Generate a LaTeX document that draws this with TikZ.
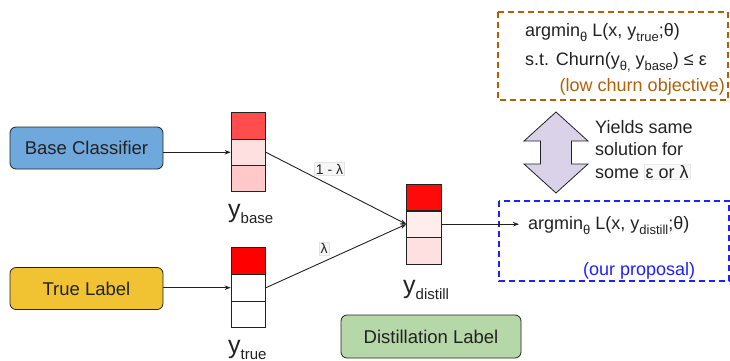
\documentclass[tikz,border=0pt]{standalone}
\usepackage{fontspec}
\setmainfont{Liberation Sans}
\usetikzlibrary{arrows.meta}
\definecolor{cblue}{HTML}{6FA8DC}
\definecolor{cyellow}{HTML}{F1C232}
\definecolor{cgreen}{HTML}{B6D7A8}
\definecolor{clav}{HTML}{D9D2E9}
\definecolor{corange}{HTML}{B45F06}
\definecolor{cdblue}{HTML}{2020FF}
\definecolor{ink}{HTML}{222222}
\definecolor{rb1}{HTML}{FF4D4D}
\definecolor{rb2}{HTML}{FFE0E0}
\definecolor{rb3}{HTML}{FFC9C9}
\definecolor{rt1}{HTML}{FF0000}
\definecolor{rd1}{HTML}{FF0A0A}
\definecolor{rd2}{HTML}{FFEDED}
\definecolor{rd3}{HTML}{FFE0E0}
\newcommand{\sbs}[1]{\raisebox{-0.3em}{\fontsize{13}{13}\selectfont #1}}
\newcommand{\bigy}[1]{{\fontsize{25}{25}\selectfont y}\raisebox{-6pt}{\fontsize{15}{15}\selectfont #1}}
\newcommand{\hlbox}[1]{{\setlength{\fboxsep}{1pt}\setlength{\fboxrule}{0.4pt}\fcolorbox{gray!18}{gray!5}{#1}}}
\begin{document}
\begin{tikzpicture}[x=1pt,y=-1pt,
  box/.style={draw=ink, rounded corners=6pt, line width=0.8pt, minimum width=153pt, minimum height=42pt, inner sep=0pt, font=\fontsize{18.5}{20}\selectfont, text=ink},
  cell/.style={draw=ink, line width=0.8pt, minimum width=34.5pt, minimum height=26.5pt, inner sep=0pt},
  txt/.style={inner sep=0pt, font=\fontsize{18}{20}\selectfont, text=ink},
  wlab/.style={inner sep=1.5pt, font=\fontsize{14}{15}\selectfont, fill=gray!7, draw=gray!22, line width=0.5pt, text=ink},
  arr/.style={draw=ink, line width=0.9pt, -{Stealth[length=6pt,width=4.5pt]}},
  dashbox/.style={line width=2pt, dash pattern=on 6pt off 4pt},
]
\useasboundingbox (0,0) rectangle (730,360);

% source boxes
\node[box, fill=cblue] (base) at (86.5,148) {Base Classifier};
\node[box, fill=cyellow] (true) at (86.5,288.5) {True Label};
\node[box, fill=cgreen, minimum width=180pt, minimum height=43pt] (dlab) at (431,336.5) {Distillation Label};

% y_base cells
\node[cell, fill=rb1] (b1) at (248.3,126) {};
\node[cell, fill=rb2] (b2) at (248.3,152.3) {};
\node[cell, fill=rb3] (b3) at (248.3,178.6) {};
% y_true cells
\node[cell, fill=rt1] (t1) at (248.3,261) {};
\node[cell, fill=white] (t2) at (248.3,287.7) {};
\node[cell, fill=white] (t3) at (248.3,314.3) {};
% y_distill cells
\node[cell, fill=rd1] (d1) at (424,197.6) {};
\node[cell, fill=rd2] (d2) at (424,224.2) {};
\node[cell, fill=rd3] (d3) at (424,250.8) {};

% y labels
\node[txt, anchor=base west] (yb) at (228,217) {\bigy{base}};
\node[txt, anchor=base west] (yt) at (228,353) {\bigy{true}};
\node[txt, anchor=base west] (yd) at (403,293.5) {\bigy{distill}};

% connectors
\draw[arr] (b2.west -| base.east) -- (b2.west);
\draw[arr] (t2.west -| true.east) -- (t2.west);
\draw[arr] (b2.east) -- (d2.west);
\draw[arr] (t2.east) -- (d2.west);
\node[wlab] (l1) at (329.5,169) {1 - λ};
\node[wlab] (l2) at (324,248.5) {λ};

% orange dashed box
\draw[dashbox, draw=corange] (498,12) rectangle (728,100);
\node[txt, anchor=base west] (o1) at (525,36.5) {argmin\sbs{θ} L(x, y\sbs{true};θ)};
\node[txt, anchor=base west] (o2) at (525,65) {s.t. Churn(y\sbs{θ,} y\sbs{base}) ≤ ε};
\node[txt, anchor=base east, text=corange] (o3) at (725,91.5) {(low churn objective)};

% double arrow
\draw[draw=ink, line width=0.8pt, fill=clav]
  (556,112) -- (588,141) -- (571.5,141) -- (571.5,164) -- (588,164) -- (556,193)
  -- (524,164) -- (540.5,164) -- (540.5,141) -- (524,141) -- cycle;
\node[txt, anchor=base west] (w1) at (595,133) {Yields same};
\node[txt, anchor=base west] (w2) at (595,155.5) {solution for};
\node[txt, anchor=base west] (w3) at (595,178) {some \hlbox{ε or λ}};

% blue dashed box
\draw[dashbox, draw=cdblue] (498.5,200.5) rectangle (729,280.5);
\coordinate (aend) at (519,224.2);
\draw[arr] (d2.east) -- (aend);
\node[txt, anchor=base west] (a1) at (528,229.5) {argmin\sbs{θ} L(x, y\sbs{distill};θ)};
\node[txt, anchor=base west, text=cdblue] (a2) at (583,275) {(our proposal)};
\end{tikzpicture}
\end{document}
